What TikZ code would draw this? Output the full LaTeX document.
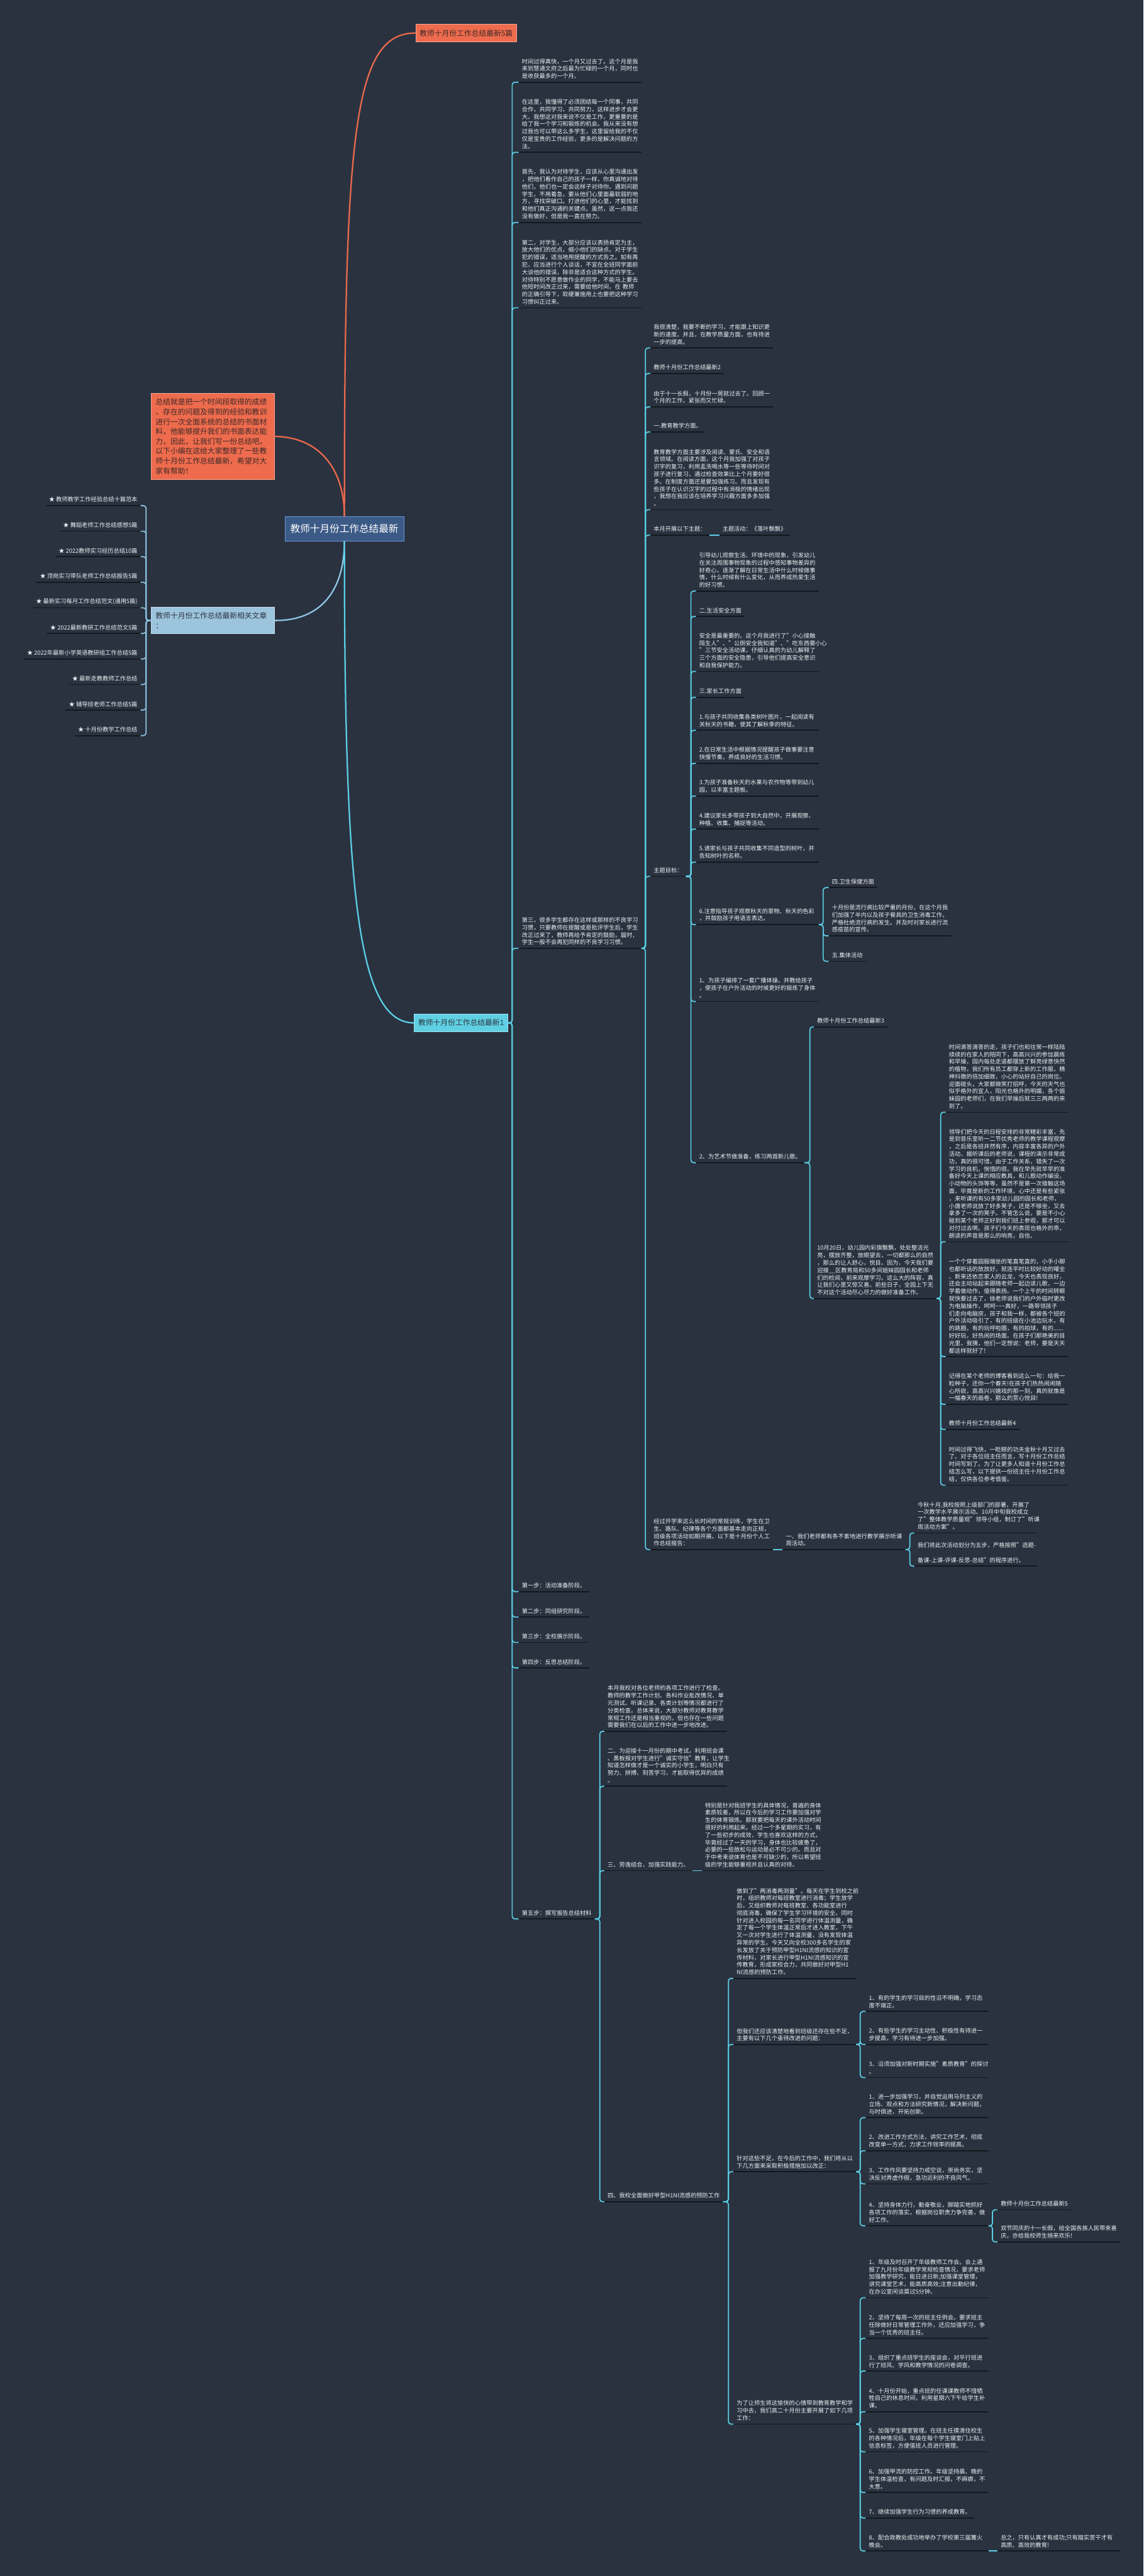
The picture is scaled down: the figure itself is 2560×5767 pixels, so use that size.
\documentclass[tikz,border=0pt]{standalone}
\usepackage{fontspec}
\setmainfont{Noto Sans CJK SC}
\usetikzlibrary{positioning}
\definecolor{bgc}{HTML}{2A3240}
\definecolor{coral}{HTML}{EE6B4D}
\definecolor{coraltext}{HTML}{3D2A28}
\definecolor{rootfill}{HTML}{3C5A86}
\definecolor{rootline}{HTML}{6797DD}
\definecolor{skyfill}{HTML}{9CC4DD}
\definecolor{skytext}{HTML}{2F3440}
\definecolor{skyline}{HTML}{8EC5E3}
\definecolor{cyanline}{HTML}{5BCFE4}
\definecolor{cyanfill}{HTML}{5FD0E3}
\definecolor{redline}{HTML}{E9694C}
\definecolor{ulcol}{HTML}{14181E}
\definecolor{txtcol}{HTML}{EEF1F4}
\newcommand{\mmtext}{\fontsize{6.5pt}{8.3pt}\selectfont}
\newcommand{\mmbox}{\fontsize{8.3pt}{11pt}\selectfont}
\newcommand{\mmroot}{\fontsize{11pt}{13pt}\selectfont}

\begin{document}
\begin{tikzpicture}[x=0.5pt, y=-0.5pt,
    uline/.style={draw=ulcol, line width=1.2pt},
    lbl/.style={anchor=south west, inner xsep=3.5pt, inner ysep=3.5pt,
                font=\mmtext, text=txtcol, align=left,
                append after command={(\tikzlastnode.south west) edge[uline] (\tikzlastnode.south east)}},
    para/.style={lbl, text width=130pt},
    topic/.style={font=\mmbox, inner xsep=4.5pt, minimum height=20pt},
    link/.style={draw=cyanline, line width=1.2pt, rounded corners=3pt},
    curve/.style={line width=1.6pt}
  ]
  \fill[bgc] (0,0) rectangle (2560,5767);
  \useasboundingbox (0,0) rectangle (2560,5767);

  % main topics
  \node[draw=rootline, line width=0.8pt, fill=rootfill, text=white, font=\mmroot,
        inner xsep=6pt, minimum height=27pt] (root) at (771,1184) {教师十月份工作总结最新};
  \node[topic, fill=coral, draw=coral!60!white, text=coraltext, anchor=west] (sum5) at (930,74) {教师十月份工作总结最新5篇};
  \node[topic, fill=coral, draw=coral!60!white, text=coraltext, anchor=north west,
        text width=128pt, inner xsep=5pt, inner ysep=6pt, align=left] (intro) at (338,880)
    {总结就是把一个时间段取得的成绩\\、存在的问题及得到的经验和教训\\进行一次全面系统的总结的书面材\\料，他能够提升我们的书面表达能\\力，因此，让我们写一份总结吧。\\以下小编在这给大家整理了一些教\\师十月份工作总结最新，希望对大\\家有帮助！};
  \node[topic, fill=skyfill, draw=skyfill!60!white, text=skytext, anchor=north west,
        text width=128pt, inner xsep=5pt, inner ysep=5.8pt, align=left] (rel) at (338,1359)
    {教师十月份工作总结最新相关文章\\：};
  \node[topic, fill=cyanfill, draw=cyanfill!60!white, text=skytext, anchor=west] (art1) at (927,2290) {教师十月份工作总结最新1};

  \draw[curve, redline] (root.north) .. controls (771,300) and (790,74) .. (sum5.west);
  \draw[curve, redline] (intro.east) .. controls (715,978) and (771,1050) .. (root.north);
  \draw[curve, skyline] (root.south) .. controls (771,1320) and (720,1390) .. (rel.east);
  \draw[curve, cyanline] (root.south) .. controls (771,2000) and (800,2290) .. (art1.west);

  % related articles
  \foreach \t [count=\i from 0] in {★ 教师教学工作经验总结十篇范本, ★ 舞蹈老师工作总结感想5篇,
      ★ 2022教师实习经历总结10篇, ★ 顶岗实习带队老师工作总结报告5篇,
      ★ 最新实习每月工作总结范文(通用5篇), ★ 2022最新教研工作总结范文5篇,
      ★ 2022年最新小学英语教研组工作总结5篇, ★ 最新走教教师工作总结,
      ★ 辅导班老师工作总结5篇, ★ 十月份教学工作总结}
    \node[lbl, anchor=south east] (li\i) at (315,{1132+57.2*\i}) {\t};
  \foreach \i in {0,...,9}
    \draw[link, skyline] (rel.west) -- ++(-11,0) |- (li\i.south east);

  % article 1
  \node[para] (a1) at (1161,184) {时间过得真快，一个月又过去了。这个月是我\\来到慧通文府之后最为忙碌的一个月，同时也\\是收获最多的一个月。};
  \node[para] (a2) at (1161,341) {在这里，我懂得了必须团结每一个同事，共同\\合作，共同学习，共同努力，这样进步才会更\\大。我想这对我来说不仅是工作，更重要的是\\给了我一个学习和锻炼的机会。我从来没有想\\过我也可以带这么多学生，这里留给我的不仅\\仅是宝贵的工作经验，更多的是解决问题的方\\法。};
  \node[para] (a3) at (1161,498) {首先，我认为对待学生，应该从心里沟通出发\\，把他们看作自己的孩子一样，你真诚地对待\\他们，他们也一定会这样子对待你。遇到问题\\学生，不用着急，要从他们心里面最软弱的地\\方，寻找突破口。打进他们的心里，才能找到\\和他们真正沟通的关键点。虽然，这一点我还\\没有做好，但是我一直在努力。};
  \node[para] (a4) at (1161,689) {第二，对学生，大部分应该以表扬肯定为主，\\放大他们的优点，缩小他们的缺点。对于学生\\犯的错误，适当地用提醒的方式告之。如有再\\犯，应当进行个人谈话，不宜在全班同学面前\\大谈他的错误，除非是适合这种方式的学生。\\对待特别不愿意做作业的同学，不能马上要去\\他短时间改正过来，需要给他时间，在 教师\\的正确引导下，软硬兼施用上也要把这种学习\\习惯纠正过来。};
  \node[para] (third) at (1161,2123) {第三，很多学生都存在这样或那样的不良学习\\习惯，只要教师在提醒或是批评学生后，学生\\改正过来了，教师再给予肯定的鼓励，届时，\\学生一般不会再犯同样的不良学习习惯。};
  \node[lbl] (st1) at (1161,3563) {第一步：活动准备阶段。};
  \node[lbl] (st2) at (1161,3620) {第二步：同组研究阶段。};
  \node[lbl] (st3) at (1161,3677) {第三步：全校展示阶段。};
  \node[lbl] (st4) at (1161,3734) {第四步：反思总结阶段。};
  \node[lbl] (st5) at (1161,4296) {第五步：撰写报告总结材料};
  \foreach \c in {a1,a2,a3,a4,third,st1,st2,st3,st4,st5}
    \draw[link] (art1.east) -- ++(9,0) |- (\c.south west);

  % under "third"
  \node[para] (g1) at (1456,779) {我很清楚，我要不断的学习，才能跟上知识更\\新的速度。并且，在教学质量方面，也有待进\\一步的提高。};
  \node[lbl] (art2) at (1456,836) {教师十月份工作总结最新2};
  \node[para] (g3) at (1456,911) {由于十一长假，十月份一晃就过去了。回顾一\\个月的工作，紧张而又忙碌。};
  \node[lbl] (edu) at (1456,967) {一.教育教学方面。};
  \node[para] (g5) at (1456,1141) {教育教学方面主要涉及阅读、蒙氏、安全和语\\言领域。在阅读方面，这个月我加强了对孩子\\识字的复习，利用盂洗喝水等一些等待时间对\\孩子进行复习，通过检查效果比上个月要好很\\多。在制度方面还是要加强练习。而且发现有\\些孩子在认识汉字的过程中有消极的情绪出现\\，我想在我应该在培养学习兴趣方面多多加强\\。};
  \node[lbl] (theme) at (1456,1198) {本月开展以下主题：};
  \node[lbl] (themeact) at (1610,1198) {主题活动：《落叶飘飘》};
  \node[lbl] (goal) at (1456,1962) {主题目标：};
  \node[para] (g8) at (1456,3469) {经过开学来这么长时间的常规训练，学生在卫\\生、路队、纪律等各个方面都基本走向正规，\\班级各项活动如期开展。以下是十月份个人工\\作总结报告：};
  \foreach \c in {g1,art2,g3,edu,g5,theme,goal,g8}
    \draw[link] (third.south east) -- ++(9,0) |- (\c.south west);
  \draw[link] (theme.south east) -- (themeact.south west);

  % theme goals
  \node[para] (h1) at (1558,1323) {引导幼儿观察生活、环境中的现象，引发幼儿\\在关注周围事物现象的过程中感知事物差异的\\好奇心，逐渐了解在日常生活中什么时候做事\\情，什么时候有什么变化，从而养成热爱生活\\的好习惯。};
  \node[lbl] (safe) at (1558,1380) {二.生活安全方面};
  \node[para] (h3) at (1558,1503) {安全是最重要的。这个月我进行了"小心接触\\陌生人"、"公厕安全我知道"、"吃东西要小心\\"三节安全活动课，仔细认真的为幼儿解释了\\三个方面的安全隐患，引导他们提高安全意识\\和自我保护能力。};
  \node[lbl] (family) at (1558,1561) {三.家长工作方面};
  \node[para] (h5) at (1558,1635) {1.与孩子共同收集各类树叶图片，一起阅读有\\关秋天的书籍，使其了解秋季的特征。};
  \node[para] (h6) at (1558,1709) {2.在日常生活中根据情况提醒孩子做事要注意\\快慢节奏，养成良好的生活习惯。};
  \node[para] (h7) at (1558,1782) {3.为孩子准备秋天的水果与农作物等带到幼儿\\园，以丰富主题板。};
  \node[para] (h8) at (1558,1856) {4.建议家长多带孩子到大自然中，开展观察、\\种植、收集、捕捉等活动。};
  \node[para] (h9) at (1558,1930) {5.请家长与孩子共同收集不同造型的树叶，并\\告知树叶的名称。};
  \node[para] (h10) at (1558,2070) {6.注意指导孩子观察秋天的景物、秋天的色彩\\，并鼓励孩子用语言表达。};
  \node[para] (h11) at (1558,2242) {1、为孩子编排了一套广播体操，并教给孩子\\，使孩子在户外活动的时候更好的锻炼了身体\\。};
  \node[lbl] (h12) at (1558,2603) {2、为艺术节做准备，练习两首新儿歌。};
  \foreach \c in {h1,safe,h3,family,h5,h6,h7,h8,h9,h10,h11,h12}
    \draw[link] (goal.south east) -- ++(11,0) |- (\c.south west);

  \node[lbl] (health) at (1855,1987) {四.卫生保健方面};
  \node[para] (flu) at (1855,2095) {十月份是流行病比较严重的月份，在这个月我\\们加强了半内以及孩子餐具的卫生消毒工作，\\严格杜绝流行病的发生。并及时对家长进行流\\感疫苗的宣传。};
  \node[lbl] (group) at (1855,2152) {五.集体活动};
  \foreach \c in {health,flu,group}
    \draw[link] (h10.south east) -- ++(10,0) |- (\c.south west);

  % article 3
  \node[lbl] (art3) at (1822,2299) {教师十月份工作总结最新3};
  \node[para] (oct20) at (1822,2907) {10月20日，幼儿园内彩旗飘飘，处处整洁光\\亮，摆放齐整，放眼望去，一切都那么的自然\\，那么的让人舒心，悦目。因为，今天我们要\\迎接\_\_区教育局和50多间姐妹园园长和老师\\们的检阅，前来观摩学习。这么大的阵容，真\\让我们心里又惊又喜。前些日子，全园上下无\\不对这个活动尽心尽力的做好准备工作。};
  \foreach \c in {art3,oct20}
    \draw[link] (h12.south east) -- ++(12,0) |- (\c.south west);

  \node[para] (j1) at (2117,2490) {时间滴答滴答的走，孩子们也和往常一样陆陆\\续续的在家人的陪同下，高高兴兴的参加晨练\\和早操，园内每处走道都摆放了鲜亮绿意快然\\的植物，我们所有员工都穿上新的工作服，精\\神抖擞的倍加细致，小心的站好自己的岗位。\\迎面碰头，大家都微笑打招呼，今天的天气也\\似乎格外的宜人，阳光也格外的明媚，各个姐\\妹园的老师们，在我们早操后就三三两两的来\\到了。};
  \node[para] (j2) at (2117,2780) {领导们把今天的日程安排的非常精彩丰富，先\\是到音乐室听一二节优秀老师的教学课程观摩\\，之后是各班井然有序，内容丰富各异的户外\\活动，据听课后的老师说，课程的演示非常成\\功，真的很可惜，由于工作关系，错失了一次\\学习的良机，惋惜的很。我在早先就早早的准\\备好今天上课的相应教具，和儿歌动作编设，\\小动物的头饰等等，虽然不是第一次接触这场\\面，毕竟是新的工作环境，心中还是有些紧张\\，来听课的有50多家幼儿园的园长和老师，\\小唐老师说放了好多凳子，还是不够坐，又去\\拿多了一次的凳子。不管怎么说，要是不小心\\碰到某个老师正好到我们班上参观，那才可以\\对付过去啊。孩子们今天的表现也格外的乖，\\朗读的声音是那么的响亮，自信。};
  \node[para] (j3) at (2117,3037) {一个个穿着园服端坐的笔直笔直的，小手小脚\\也都听话的放放好，就连平时比较好动的曜全\\、新来还依恋家人的云龙，今天也表现良好，\\还会主动站起来跟随老师一起边读儿歌，一边\\学着做动作，值得表扬。一个上午的时间转眼\\就快要过去了，徐老师说我们的户外临时更改\\为电脑操作，呵呵\textasciitilde\textasciitilde\textasciitilde 真好，一路带领孩子\\们走向电脑房，孩子和我一样，都被各个班的\\户外活动吸引了，有的班级在小池边玩水，有\\的跳圈，有的玩呼啦圈，有的拍球，有的......\\好好玩，好热闹的场面。在孩子们那艳美的目\\光里，我猜，他们一定想说：老师，要是天天\\都这样就好了!};
  \node[para] (j4) at (2117,3144) {记得在某个老师的博客看到这么一句：给我一\\粒种子，还你一个春天!在孩子们热热闹闹随\\心所欲，高高兴兴嬉戏的那一刻，真的就像是\\一幅春天的画卷，那么的赏心悦目!};
  \node[lbl] (art4) at (2117,3200) {教师十月份工作总结最新4};
  \node[para] (j6) at (2117,3325) {时间过得飞快，一眨眼的功夫金秋十月又过去\\了。对于各位班主任而言，写十月份工作总结\\时间写到了。为了让更多人知道十月份工作总\\结怎么写，以下提供一份班主任十月份工作总\\结，仅供各位参考借鉴。};
  \foreach \c in {j1,j2,j3,j4,art4,j6}
    \draw[link] (oct20.south east) -- ++(9,0) |- (\c.south west);

  % open-class week
  \node[para] (show) at (1752,3469) {一、我们老师都有条不紊地进行教学展示听课\\周活动。};
  \node[para] (show1) at (2047,3432) {今秋十月,我校按照上级部门的部署，开展了\\一次教学水平展示活动。10月中旬我校成立\\了"整体教学质量观"领导小组，制订了"听课\\周活动方案"。};
  \node[para] (show2) at (2047,3506) {我们将此次活动划分为五步，严格按照"选题-\\备课-上课-评课-反思-总结"的程序进行。};
  \draw[link] (g8.south east) -- (show.south west);
  \foreach \c in {show1,show2}
    \draw[link] (show.south east) -- ++(10,0) |- (\c.south west);

  % step five
  \node[para] (b1) at (1353,3876) {本月我校对各位老师的各项工作进行了检查。\\教师的教学工作计划、各科作业批改情况、单\\元测试、听课记录、各类计划等情况都进行了\\分类检查。总体来说，大部分教师对教育教学\\常规工作还是相当重视的，但也存在一些问题\\需要我们在以后的工作中进一步地改进。};
  \node[para] (b2) at (1353,3999) {二、为迎接十一月份的期中考试，利用班会课\\、黑板报对学生进行"诚实守信"教育，让学生\\知道怎样做才是一个诚实的小学生，明白只有\\努力、拼搏、刻苦学习，才能取得优异的成绩\\。};
  \node[lbl] (b3) at (1353,4188) {三、劳逸结合，加强实践能力。};
  \node[para] (sport) at (1571,4188) {特别是针对我班学生的具体情况，普遍的身体\\素质较差，所以在今后的学习工作要加强对学\\生的体育锻炼。那就要把每天的课外活动时间\\很好的利用起来。经过一个多星期的实习，有\\了一些初步的成效，学生也喜欢这样的方式，\\毕竟经过了一天的学习，身体也比较疲惫了，\\必要的一些放松与运动是必不可少的。而且对\\于中考来说体育也是不可缺少的，所以希望班\\级的学生能够重视并且认真的对待。};
  \node[lbl] (b4) at (1353,4929) {四、我校全面做好甲型H1NI流感的预防工作};
  \foreach \c in {b1,b2,b3,b4}
    \draw[link] (st5.south east) -- ++(11,0) |- (\c.south west);
  \draw[link] (b3.south east) -- (sport.south west);

  \node[para] (c1) at (1642,4429) {做到了"两消毒两测量"。每天在学生到校之前\\时，组织教师对每班教室进行消毒；学生放学\\后，又组织教师对每班教室、各功能室进行\\彻底消毒，确保了学生学习环境的安全。同时\\针对进入校园的每一名同学进行体温测量，确\\定了每一个学生体温正常后才进入教室，下午\\又一次对学生进行了体温测量，没有发现体温\\异常的学生。今天又向全校300多名学生的家\\长发放了关于预防甲型H1NI流感的知识的宣\\传材料，对家长进行甲型H1NI流感知识的宣\\传教育，形成家校合力，共同做好对甲型H1\\NI流感的预防工作。};
  \node[para] (c2) at (1642,4577) {但我们还应该清楚地看到班级还存在些不足，\\主要有以下几个亟待改进的问题：};
  \node[para] (c3) at (1642,4862) {针对这些不足，在今后的工作中，我们将从以\\下几方面来采取积极措施加以改正：};
  \node[para] (c4) at (1642,5427) {为了让师生将这愉快的心情带到教育教学和学\\习中去，我们高二十月份主要开展了如下几项\\工作：};
  \foreach \c in {c1,c2,c3,c4}
    \draw[link] (b4.south east) -- ++(12,0) |- (\c.south west);

  \node[para] (d1) at (1938,4503) {1、有的学生的学习目的性沿不明确，学习态\\度不端正。};
  \node[para] (d2) at (1938,4577) {2、有些学生的学习主动性、积极性有待进一\\步提高，学习有待进一步加强。};
  \node[para] (d3) at (1938,4651) {3、沿须加强对新时期实施"素质教育"的探讨\\。};
  \foreach \c in {d1,d2,d3}
    \draw[link] (c2.south east) -- ++(9,0) |- (\c.south west);

  \node[para] (e1) at (1938,4741) {1、进一步加强学习，并自觉运用马列主义的\\立场、观点和方法研究新情况，解决新问题，\\与时俱进，开拓创新。};
  \node[para] (e2) at (1938,4815) {2、改进工作方式方法，讲究工作艺术，彻底\\改变单一方式，力求工作效率的提高。};
  \node[para] (e3) at (1938,4889) {3、工作作风要坚持力戒空谈，崇尚务实，坚\\决反对弄虚作假，急功近利的不良风气。};
  \node[para] (e4) at (1938,4983) {4、坚持身体力行，勤奋敬业，脚踏实地抓好\\各项工作的落实，根据岗位职责力争完善，做\\好工作。};
  \foreach \c in {e1,e2,e3,e4}
    \draw[link] (c3.south east) -- ++(9,0) |- (\c.south west);

  \node[lbl] (art5) at (2233,4947) {教师十月份工作总结最新5};
  \node[para] (holiday) at (2233,5019) {双节同庆的十一长假，给全国各族人民带来喜\\庆，亦给我校师生捎来欢乐!};
  \foreach \c in {art5,holiday}
    \draw[link] (e4.south east) -- ++(9,0) |- (\c.south west);

  \node[para] (f1) at (1938,5144) {1、年级及时召开了年级教师工作会。会上通\\报了九月份年级教学常规检查情况，要求老师\\加强教学研究，能日进日新;加强课堂管理，\\讲究课堂艺术，能高质高效;注意出勤纪律，\\在办公室闲谈莫过5分钟。};
  \node[para] (f2) at (1938,5235) {2、坚持了每周一次的班主任例会。要求班主\\任除做好日常管理工作外，还应加强学习，争\\当一个优秀的班主任。};
  \node[para] (f3) at (1938,5308) {3、组织了重点班学生的座谈会，对平行班进\\行了班风、学风和教学情况的问卷调查。};
  \node[para] (f4) at (1938,5399) {4、十月份开始，重点班的任课课教师不惜牺\\牲自己的休息时间，利用星期六下午给学生补\\课。};
  \node[para] (f5) at (1938,5489) {5、加强学生寝室管理。在班主任摸清住校生\\的各种情况后，年级在每个学生寝室门上贴上\\信息标签，方便值班人员进行管理。};
  \node[para] (f6) at (1938,5580) {6、加强甲流的防控工作。年级坚持晨、晚的\\学生体温检查，有问题及时汇报，不麻痹，不\\大意。};
  \node[lbl] (f7) at (1938,5637) {7、继续加强学生行为习惯的养成教育。};
  \node[para] (f8) at (1938,5711) {8、配合政教处成功地举办了学校第三届篝火\\晚会。};
  \foreach \c in {f1,f2,f3,f4,f5,f6,f7,f8}
    \draw[link] (c4.south east) -- ++(9,0) |- (\c.south west);
  \node[para] (finally) at (2233,5711) {总之，只有认真才有成功;只有踏实苦干才有\\高质、高效的教育!};
  \draw[link] (f8.south east) -- (finally.south west);
\end{tikzpicture}
\end{document}
